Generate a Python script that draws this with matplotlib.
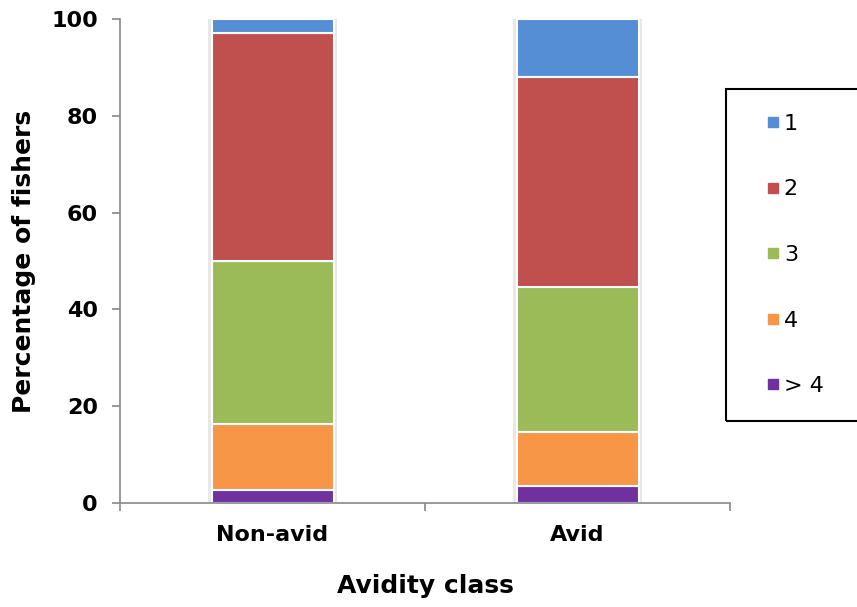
import matplotlib
matplotlib.use("Agg")
import matplotlib.pyplot as plt
from matplotlib.patches import Rectangle
from matplotlib.lines import Line2D
import numpy as np

classes = ["Non-avid", "Avid"]
groups = ["> 4", "4", "3", "2", "1"]          # bottom to top
gt4 = [2.6, 3.5]
four = [13.7, 11.2]
three = [33.7, 29.9]
two = [47.2, 43.4]
one = [2.8, 12.0]
series = [gt4, four, three, two, one]
colors = ["#7030A0", "#F79646", "#9BBB59", "#C0504D", "#558ED5"]

fig = plt.figure(figsize=(8.57, 6.07), dpi=100)
ax = fig.add_axes([120 / 857, 1 - 503 / 607, 610 / 857, 484 / 607])

x = np.arange(len(classes))
w = 0.4
# soft shadow behind each stack
ax.bar(x, [100, 100], width=w + 0.025, color="#e8e8e8", edgecolor="none", zorder=1)
bottom = np.zeros(len(classes))
for vals, c in zip(series, colors):
    ax.bar(x, vals, width=w, bottom=bottom, color=c, edgecolor="white",
           linewidth=1.5, zorder=2)
    bottom += np.array(vals)

ax.set_xlim(-0.5, 1.5)
ax.set_ylim(0, 100)
ax.set_yticks([0, 20, 40, 60, 80, 100])
ax.set_xticks(x)
ax.set_xticklabels(classes)
ax.set_xticks([-0.5, 0.5, 1.5], minor=True)
ax.tick_params(axis="x", which="major", length=0, pad=16, labelsize=16)
ax.tick_params(axis="x", which="minor", length=6, color="#888888", width=1.2)
ax.tick_params(axis="y", length=6, color="#888888", width=1.2, labelsize=16, pad=10)
for lab in ax.get_xticklabels() + ax.get_yticklabels():
    lab.set_fontweight("bold")
for s in ["top", "right"]:
    ax.spines[s].set_visible(False)
for s in ["left", "bottom"]:
    ax.spines[s].set_color("#888888")
    ax.spines[s].set_linewidth(1.2)

ax.set_ylabel("Percentage of fishers", fontsize=18, fontweight="bold", labelpad=11)
ax.set_xlabel("Avidity class", fontsize=18, fontweight="bold", labelpad=21)

# legend (box runs off the right edge)
fig.patches.append(Rectangle((726 / 857, 1 - 421 / 607), 0.2, 332 / 607,
                             transform=fig.transFigure, fill=False,
                             edgecolor="black", linewidth=1.5))
handles = [Line2D([], [], marker="s", linestyle="none", markersize=7.5,
                  markerfacecolor=c, markeredgecolor=c)
           for c in colors[::-1]]
fig.legend(handles, groups[::-1], loc="upper left", frameon=False,
           bbox_to_anchor=(756 / 857, 1 - 105 / 607), fontsize=16,
           labelspacing=2.05, handlelength=0.7, handletextpad=0.15,
           borderaxespad=0)

fig.savefig("out.png", dpi=100, facecolor="white")
